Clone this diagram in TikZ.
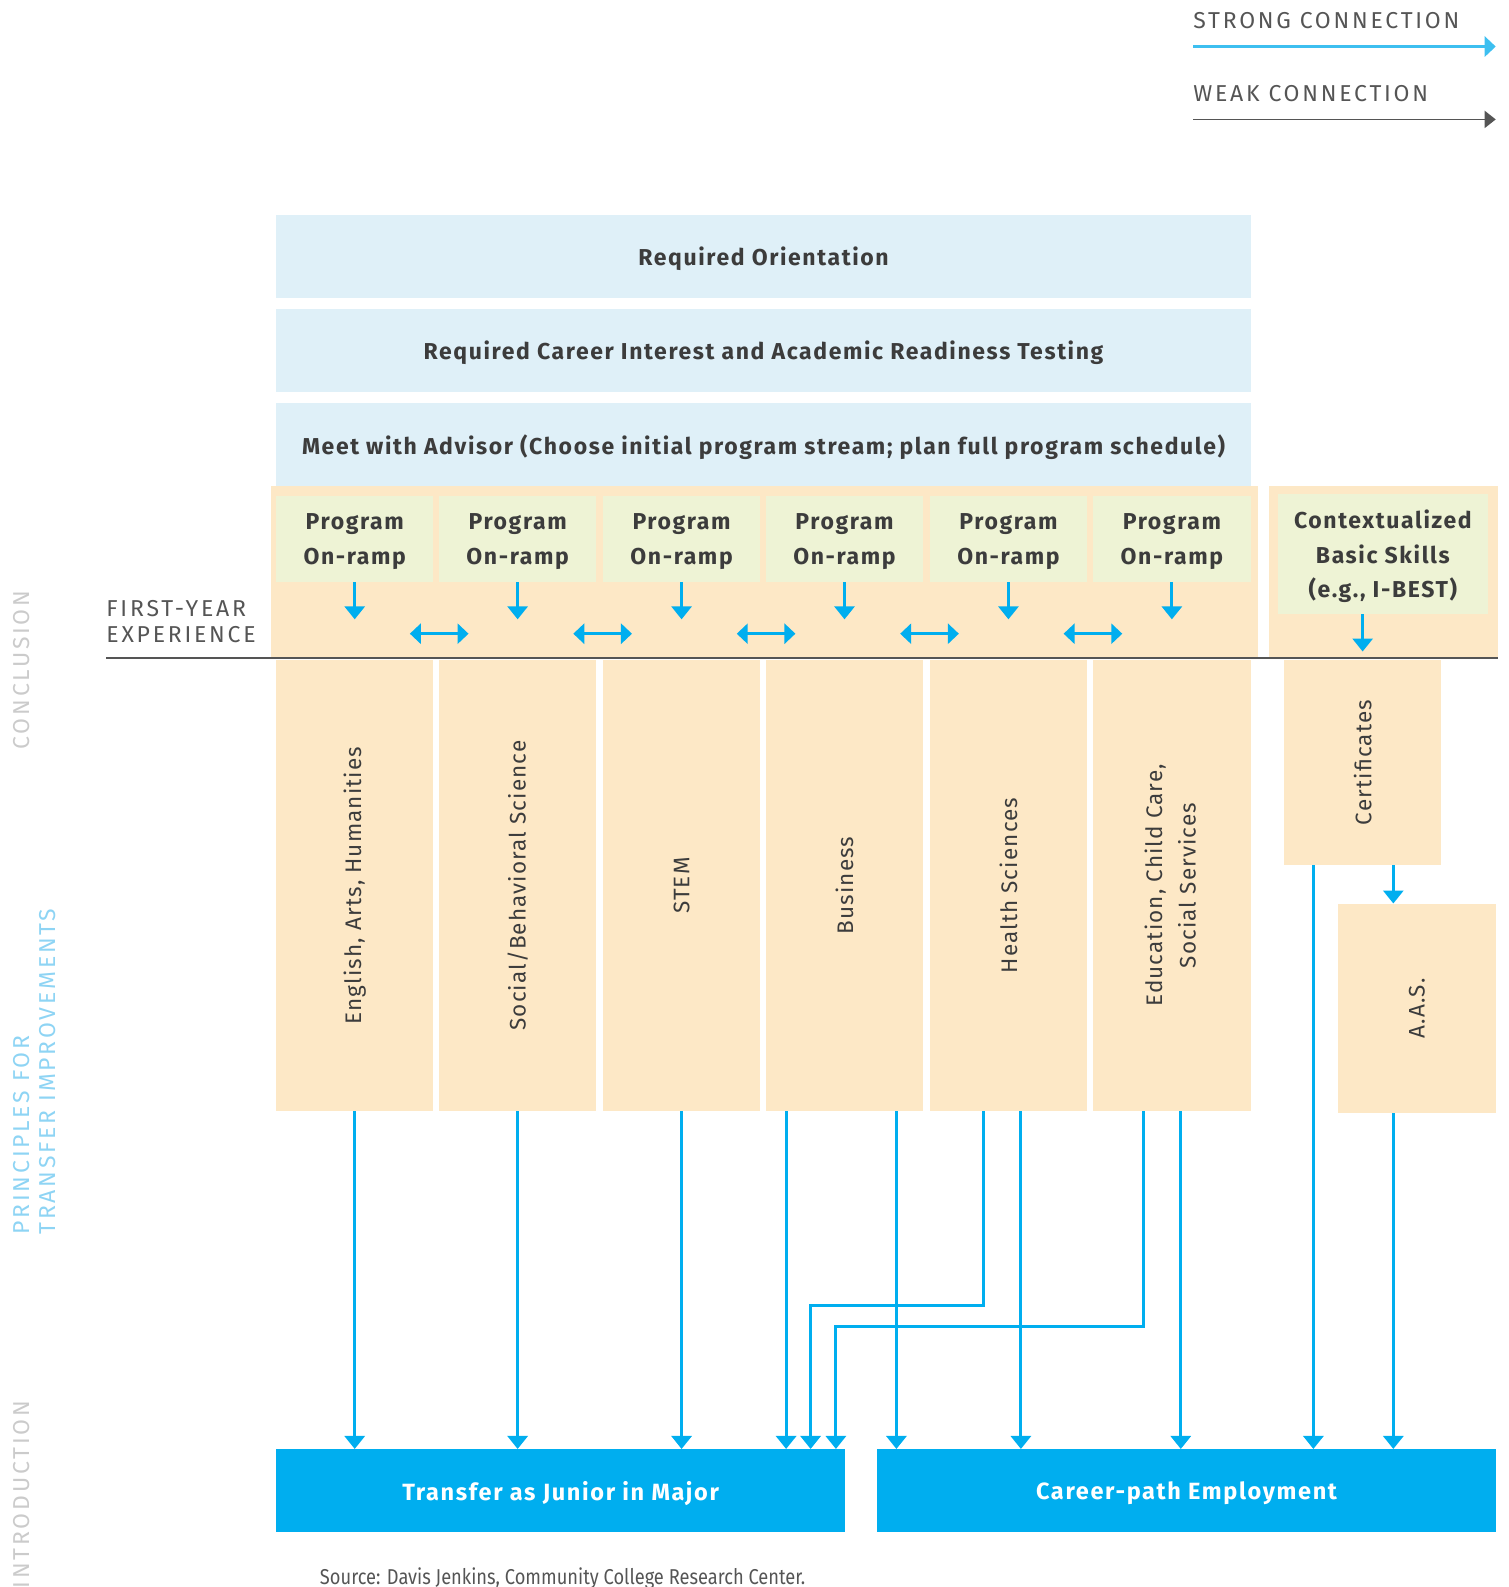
\documentclass[tikz,border=0pt]{standalone}
\usepackage{fontspec}
\setmainfont{Fira Sans}
\newfontfamily\boxfont[LetterSpace=7]{Fira Sans}
\newfontfamily\capsfont[LetterSpace=12]{Fira Sans}
\newfontfamily\colfont[LetterSpace=5]{Fira Sans}
\newfontfamily\srcfont[FakeStretch=0.85]{Fira Sans}
\usetikzlibrary{arrows.meta,calc}
\definecolor{lblue}{HTML}{DFF0F8}
\definecolor{orng}{HTML}{FDE8C6}
\definecolor{grn}{HTML}{EEF3D5}
\definecolor{cyanA}{HTML}{00AEEF}
\definecolor{cyanL}{HTML}{3DBFF0}
\definecolor{txt}{HTML}{3C3C3C}
\definecolor{mgray}{HTML}{555555}
\definecolor{lgray}{HTML}{CBCBCB}
\definecolor{mblue}{HTML}{8ED4F4}
\newcommand\Bx[6]{\node[#6, minimum width={(#4-#2)*1.012pt}, minimum height={(#5-#3)*1.012pt}] (#1) at ({(#2+#4)/2},{(#3+#5)/2})}
\tikzset{
  lbox/.style={fill=lblue, inner sep=0pt, text depth=0pt, text=txt, font=\boxfont\bfseries\fontsize{23}{34.5}\selectfont},
  panel/.style={fill=orng, inner sep=0pt},
  gbox/.style={fill=grn, inner sep=0pt, text depth=0pt, text=txt, align=center, font=\boxfont\bfseries\fontsize{23}{34.5}\selectfont},
  colbox/.style={fill=orng, inner sep=0pt, text=txt, font=\colfont\fontsize{22.5}{34.5}\selectfont},
  outbox/.style={fill=cyanA, inner sep=0pt, text depth=0pt, text=white, font=\boxfont\bfseries\fontsize{23.5}{34}\selectfont},
  flow/.style={draw=cyanA, line width=3pt, -{Triangle[width=20pt,length=13pt]}},
  dflow/.style={draw=cyanA, line width=3pt, {Triangle[width=20pt,length=11pt]}-{Triangle[width=20pt,length=11pt]}},
  capstext/.style={inner sep=0pt, font=\capsfont\fontsize{23}{26.5}\selectfont},
  margtext/.style={inner sep=0pt, font=\capsfont\fontsize{23}{26}\selectfont},
}
\begin{document}
\begin{tikzpicture}[x=1.012pt,y=-1.012pt]
\useasboundingbox (0,0) rectangle (1491.1,1568.2);

% legend
\node[capstext, text=mgray, anchor=base west] (lgs) at (1179,28) {STRONG CONNECTION};
\node[capstext, text=mgray, anchor=base west] (lgw) at (1179,100) {WEAK CONNECTION};
\coordinate (ls1) at (1179,46); \coordinate (ls2) at (1478,46);
\coordinate (lw1) at (1179,118); \coordinate (lw2) at (1478,118);
\draw[draw=cyanL, line width=3pt, -{Triangle[width=20pt,length=11pt]}] (ls1) -- (ls2);
\draw[draw=mgray, line width=1.5pt, -{Triangle[width=17pt,length=11pt]}] (lw1) -- (lw2);

% margin texts
\node[margtext, text=lgray, rotate=90] (conc) at (21,662) {CONCLUSION};
\node[margtext, text=mblue, rotate=90, anchor=west, align=left] (princ) at (34,1220) {PRINCIPLES FOR\\TRANSFER IMPROVEMENTS};
\node[margtext, text=lgray, rotate=90, anchor=east] (intro) at (21,1384) {INTRODUCTION};

% top boxes
\Bx{ori}{273}{212}{1236}{294}{lbox} {Required Orientation};
\Bx{tst}{273}{305}{1236}{387}{lbox} {Required Career Interest and Academic Readiness Testing};
\Bx{adv}{273}{398}{1236}{480}{lbox} {Meet with Advisor (Choose initial program stream; plan full program schedule)};

% first-year panels
\Bx{fy}{268}{480}{1243}{650}{panel} {};
\Bx{fyr}{1254}{480}{1480}{650}{panel} {};
\foreach \i/\a/\b in {1/273/428,2/434/589,3/596/751,4/757/912,5/919/1074,6/1080/1236}{
  \Bx{p\i}{\a}{490}{\b}{575}{gbox} {Program\\On-ramp};
}
\Bx{ctx}{1263}{488}{1470}{607}{gbox} {Contextualized\\Basic Skills\\(e.g., I-BEST)};

\node[capstext, text=mgray, anchor=north west, align=left] (fyl) at (105,593) {FIRST-YEAR\\EXPERIENCE};

% columns
\Bx{c1}{273}{652}{428}{1098}{colbox} {\rotatebox{90}{English, Arts, Humanities}};
\Bx{c2}{434}{652}{589}{1098}{colbox} {\rotatebox{90}{Social/Behavioral Science}};
\Bx{c3}{596}{652}{751}{1098}{colbox} {\rotatebox{90}{STEM}};
\Bx{c4}{757}{652}{912}{1098}{colbox} {\rotatebox{90}{Business}};
\Bx{c5}{919}{652}{1074}{1098}{colbox} {\rotatebox{90}{Health Sciences}};
\Bx{c6}{1080}{652}{1236}{1098}{colbox} {\rotatebox{90}{\begin{tabular}{@{}c@{}}Education, Child Care,\\[-1pt]Social Services\end{tabular}}};
\Bx{cert}{1269}{652}{1424}{855}{colbox} {\rotatebox{90}{Certificates}};
\Bx{aas}{1322}{893}{1478}{1100}{colbox} {\rotatebox{90}{A.A.S.}};

% divider line
\coordinate (dl1) at (105,650); \coordinate (dl2) at (1480,650);
\draw[mgray, line width=1.5pt] (dl1) -- (dl2);

% outcomes
\Bx{tr}{273}{1432}{835}{1514}{outbox} {Transfer as Junior in Major};
\Bx{car}{867}{1432}{1478}{1514}{outbox} {Career-path Employment};

% source
\node[inner sep=0pt, anchor=base west, text=mgray, font=\srcfont\fontsize{21.5}{24}\selectfont] (src) at (316,1566) {Source: Davis Jenkins, Community College Research Center.};

% first-year arrows
\coordinate (fyarr) at (0,612);
\foreach \i in {1,...,6}{
  \draw[flow] (p\i.south) -- (p\i.south |- fyarr);
}
\foreach \i/\j in {1/2,2/3,3/4,4/5,5/6}{
  \coordinate (m\i) at ($(p\i.south east)!0.5!(p\j.south west)+(3,51)$);
  \draw[dflow] ($(m\i)+(-29,0)$) -- ($(m\i)+(29,0)$);
}
\coordinate (cx) at ($(cert.north)+(0,-8)$);
\draw[flow] (ctx.south -| cert.north) -- (cx);
\coordinate (ca) at ($(cert.south west)+(108,0)$);
\draw[flow] (ca) -- (ca |- aas.north);

% bottom arrows
\draw[flow] (c1.south) -- (c1.south |- tr.north);
\draw[flow] (c2.south) -- (c2.south |- tr.north);
\draw[flow] (c3.south) -- (c3.south |- tr.north);
\coordinate (b1) at ($(c4.south west)+(20,0)$);
\coordinate (b2) at ($(c4.south west)+(129,0)$);
\draw[flow] (b1) -- (b1 |- tr.north);
\draw[flow] (b2) -- (b2 |- car.north);
\coordinate (h1) at ($(c5.south west)+(53,0)$);
\coordinate (h2) at ($(c5.south west)+(90,0)$);
\coordinate (hb) at (801,1290);
\draw[flow] (h1) |- (hb) -- (hb |- tr.north);
\draw[flow] (h2) -- (h2 |- car.north);
\coordinate (e1) at ($(c6.south west)+(50,0)$);
\coordinate (e2) at ($(c6.south west)+(87,0)$);
\coordinate (eb) at (826,1311);
\draw[flow] (e1) |- (eb) -- (eb |- tr.north);
\draw[flow] (e2) -- (e2 |- car.north);
\coordinate (k1) at ($(cert.south west)+(29,0)$);
\draw[flow] (k1) -- (k1 |- car.north);
\coordinate (a1) at ($(aas.south west)+(55,0)$);
\draw[flow] (a1) -- (a1 |- car.north);
\end{tikzpicture}
\end{document}
